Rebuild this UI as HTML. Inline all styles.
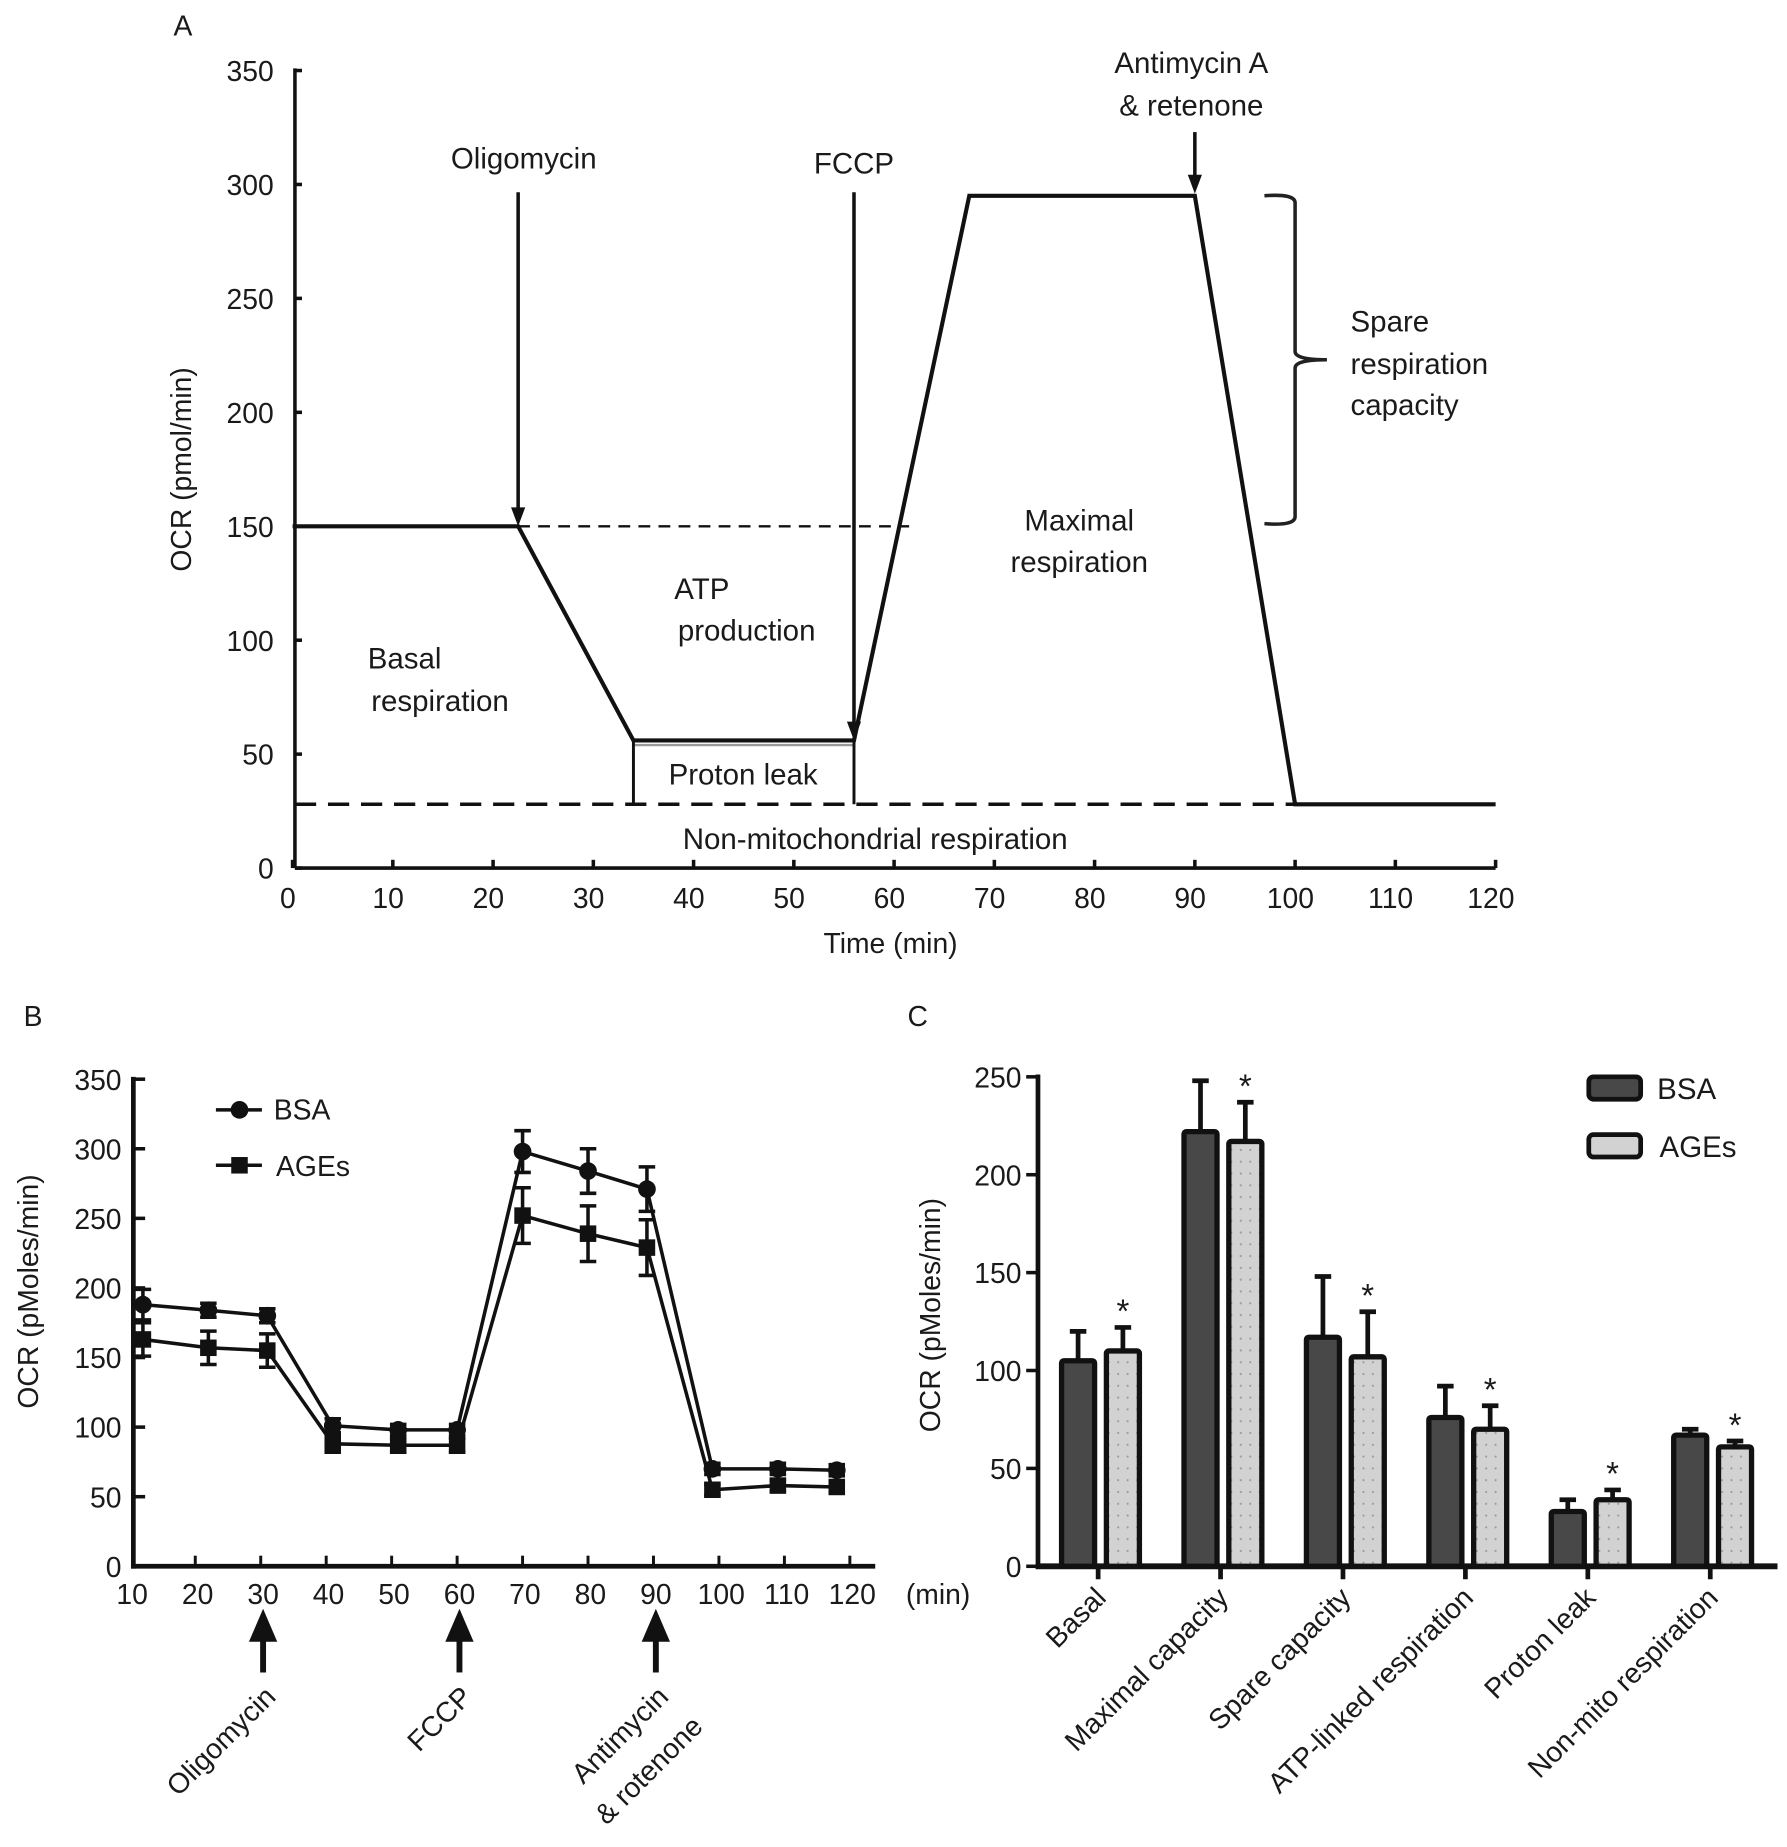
<!DOCTYPE html>
<html><head><meta charset="utf-8"><style>
html,body{margin:0;padding:0;background:#fff}
svg{display:block}
text{font-family:"Liberation Sans",sans-serif;fill:#1a1a1a}
</style></head><body>
<svg id="fig" width="1787" height="1847" viewBox="0 0 1515 1566" xmlns="http://www.w3.org/2000/svg">
<g id="pa"></g>
<g id="pb"></g>
<g id="pc"></g>
</svg>
<script>
// Panel A schematic data
const aTicksY=[0,50,100,150,200,250,300,350];
const aTicksX=[0,10,20,30,40,50,60,70,80,90,100,110,120];
const aTraceT=[0,22.5,34,56,67.5,90,100,120];
const aTraceV=[150,150,56,56,295,295,28,28];
// Panel B data
const bTime=[12,22,31,41,51,60,70,80,89,99,109,118];
const bBSA=[188,184,180,101,98,98,298,284,271,70,70,69];
const bBSAerr=[11,5,5,5,4,4,15,16,16,4,4,4];
const bAGE=[163,157,155,88,87,87,252,239,229,55,58,57];
const bAGEerr=[12,12,12,6,5,5,20,20,20,4,4,4];
const bTicksX=[10,20,30,40,50,60,70,80,90,100,110,120];
const bTicksY=[0,50,100,150,200,250,300,350];
// Panel C data
const cCats=["Basal","Maximal capacity","Spare capacity","ATP-linked respiration","Proton leak","Non-mito respiration"];
const cBSA=[105,222,117,76,28,67];
const cBSAerr=[15,26,31,16,6,3];
const cAGE=[110,217,107,70,34,61];
const cAGEerr=[12,20,23,12,5,3];
const cTicksY=[0,50,100,150,200,250];

const NS="http://www.w3.org/2000/svg";
function mk(p,tag,at,txt){const e=document.createElementNS(NS,tag);for(const k in at)e.setAttribute(k,at[k]);if(txt!==undefined)e.textContent=txt;p.appendChild(e);return e;}

// ---------- Panel A ----------
const A=document.getElementById('pa');
const ax=t=>248+t*8.5, ay=v=>736-v*1.932;
let e;
e=mk(A,'text',{x:155,y:30,'font-size':24,'text-anchor':'middle'},'A');


e=mk(A,'line',{x1:250,y1:58,x2:250,y2:736,stroke:'#111','stroke-width':3});


e=mk(A,'line',{x1:250,y1:736,x2:1268,y2:736,stroke:'#111','stroke-width':3});


aTicksY.forEach(v=>{
 e=mk(A,'line',{x1:250,y1:ay(v),x2:256,y2:ay(v),stroke:'#111','stroke-width':3});
 
 
 e=mk(A,'text',{x:232,y:ay(v)+9,'font-size':24,'text-anchor':'end'},v);
 
 
});
aTicksX.forEach(t=>{
 e=mk(A,'line',{x1:ax(t),y1:736,x2:ax(t),y2:729,stroke:'#111','stroke-width':3});
 
 
 e=mk(A,'text',{x:ax(t)-4,y:770,'font-size':24,'text-anchor':'middle'},t);
 
 
});
e=mk(A,'text',{x:755,y:808,'font-size':24,'text-anchor':'middle'},'Time (min)');


e=mk(A,'text',{x:0,y:0,'font-size':24,'text-anchor':'middle',transform:'translate(162,398) rotate(-90)'},'OCR (pmol/min)');


// dashed lines
e=mk(A,'line',{x1:ax(22.5),y1:ay(150),x2:ax(61.5),y2:ay(150),stroke:'#111','stroke-width':2,'stroke-dasharray':'10,7'});


e=mk(A,'line',{x1:250,y1:ay(28),x2:ax(100),y2:ay(28),stroke:'#111','stroke-width':3,'stroke-dasharray':'18,10'});


// trace
e=mk(A,'polyline',{points:aTraceT.map((t,i)=>ax(t)+','+ay(aTraceV[i])).join(' '),fill:'none',stroke:'#111','stroke-width':3.5});


e=mk(A,'line',{x1:ax(34),y1:ay(54),x2:ax(56),y2:ay(54),stroke:'#999','stroke-width':2});


[34,56].forEach(t=>{
 e=mk(A,'line',{x1:ax(t),y1:ay(56),x2:ax(t),y2:ay(28),stroke:'#111','stroke-width':2.5});
 
 
});
function arrowA(t,y0,v,name){
 const y1=ay(v);
 e=mk(A,'line',{x1:ax(t),y1:y0,x2:ax(t),y2:y1-12,stroke:'#111','stroke-width':3});
 
 
 e=mk(A,'polygon',{points:`${ax(t)-6},${y1-16} ${ax(t)+6},${y1-16} ${ax(t)},${y1}`,fill:'#111'});
 
 
}
arrowA(22.5,163,150,'oligomycin-arrow');
arrowA(56,163,56,'fccp-arrow');
arrowA(90,112,296,'antimycin-arrow');
const aLabels=[[444,143,'Oligomycin'],[724,147,'FCCP'],[1010,62,'Antimycin A'],[1010,98,'& retenone'],
[343,567,'Basal'],[373,603,'respiration'],[595,508,'ATP'],[633,543,'production'],[630,665,'Proton leak'],
[742,720,'Non-mitochondrial respiration'],[915,450,'Maximal'],[915,485,'respiration']];
aLabels.forEach(l=>{
 e=mk(A,'text',{x:l[0],y:l[1],'font-size':25,'text-anchor':'middle'},l[2]);
 
 
});
[[1145,281,'Spare'],[1145,317,'respiration'],[1145,352,'capacity']].forEach(l=>{
 e=mk(A,'text',{x:l[0],y:l[1],'font-size':25},l[2]);
 
 
});
e=mk(A,'path',{d:'M1072,166 Q1098,164 1098,172 L1098,298 Q1098,305 1125,305 Q1098,305 1098,312 L1098,438 Q1098,446 1072,444',fill:'none',stroke:'#222','stroke-width':3});



// ---------- Panel B ----------
const B=document.getElementById('pb');
const bx=t=>110+(t-10)*5.55, by=v=>1328-v*1.18;
e=mk(B,'text',{x:28,y:870,'font-size':24,'text-anchor':'middle'},'B');


e=mk(B,'line',{x1:113,y1:913,x2:113,y2:1330,stroke:'#111','stroke-width':4});


e=mk(B,'line',{x1:111,y1:1328,x2:742,y2:1328,stroke:'#111','stroke-width':4});


bTicksY.forEach(v=>{
 e=mk(B,'line',{x1:113,y1:by(v),x2:123,y2:by(v),stroke:'#111','stroke-width':3});
 
 
 e=mk(B,'text',{x:103,y:by(v)+9,'font-size':24,'text-anchor':'end'},v);
 
 
});
bTicksX.forEach(t=>{
 if(t>10){e=mk(B,'line',{x1:bx(t),y1:1328,x2:bx(t),y2:1319,stroke:'#111','stroke-width':2.5});
 
 }
 e=mk(B,'text',{x:bx(t)+2,y:1360,'font-size':24,'text-anchor':'middle'},t);
 
 
});
e=mk(B,'text',{x:768,y:1360,'font-size':24},'(min)');


e=mk(B,'text',{x:0,y:0,'font-size':24,'text-anchor':'middle',transform:'translate(32,1095) rotate(-90)'},'OCR (pMoles/min)');


function seriesB(vals,errs,name,sq){
 [[0,3],[3,6],[6,9],[9,12]].forEach(r=>{
  const pts=[];for(let i=r[0];i<r[1];i++)pts.push(bx(bTime[i])+','+by(vals[i]));
  if(r[0]>0){const j=r[0]-1;pts.unshift(bx(bTime[j])+','+by(vals[j]));}
  e=mk(B,'polyline',{points:pts.join(' '),fill:'none',stroke:'#111','stroke-width':3});
  
  
 });
 vals.forEach((v,i)=>{
  const x=bx(bTime[i]),y=by(v),d=errs[i]*1.18;
  e=mk(B,'path',{d:`M${x},${y-d}V${y+d}M${x-7},${y-d}H${x+7}M${x-7},${y+d}H${x+7}`,stroke:'#111','stroke-width':3,fill:'none'});
  
  
  if(sq) e=mk(B,'rect',{x:x-7,y:y-7,width:14,height:14,fill:'#111'});
  else e=mk(B,'circle',{cx:x,cy:y,r:7.5,fill:'#111'});
  
  
 });
}
seriesB(bBSA,bBSAerr,'bsa',false);
seriesB(bAGE,bAGEerr,'ages',true);
e=mk(B,'line',{x1:183,y1:941,x2:222,y2:941,stroke:'#111','stroke-width':3});


e=mk(B,'circle',{cx:203,cy:941,r:7.5,fill:'#111'});


e=mk(B,'text',{x:232,y:949,'font-size':24},'BSA');


e=mk(B,'line',{x1:183,y1:988,x2:222,y2:988,stroke:'#111','stroke-width':3});


e=mk(B,'rect',{x:196,y:981,width:14,height:14,fill:'#111'});


e=mk(B,'text',{x:234,y:997,'font-size':24},'AGEs');


[[30,'Oligomycin',['Oligomycin']],[60,'FCCP',['FCCP']],[90,'Antimycin',['Antimycin','& rotenone']]].forEach(a=>{
 const x=bx(a[0])+2;
 e=mk(B,'line',{x1:x,y1:1418,x2:x,y2:1385,stroke:'#111','stroke-width':5});
 
 
 e=mk(B,'polygon',{points:`${x-12},${1392} ${x+12},${1392} ${x},${1364}`,fill:'#111'});
 
 
 a[2].forEach((s,k)=>{
  e=mk(B,'text',{x:0,y:k*30,'font-size':24,'text-anchor':'end',transform:`translate(${x+12+k*8},${1440+k*4}) rotate(-45)`},s);
  
  
 });
});

// ---------- Panel C ----------
const C=document.getElementById('pc');
const cy=v=>1328-v*1.66, cx=i=>931+i*103.8;
e=mk(C,'text',{x:778,y:870,'font-size':24,'text-anchor':'middle'},'C');


e=mk(C,'line',{x1:880,y1:911,x2:880,y2:1330,stroke:'#111','stroke-width':4});


e=mk(C,'line',{x1:878,y1:1328,x2:1507,y2:1328,stroke:'#111','stroke-width':5});


cTicksY.forEach(v=>{
 e=mk(C,'line',{x1:870,y1:cy(v),x2:880,y2:cy(v),stroke:'#111','stroke-width':3});
 
 
 e=mk(C,'text',{x:866,y:cy(v)+9,'font-size':24,'text-anchor':'end'},v);
 
 
});
e=mk(C,'text',{x:0,y:0,'font-size':24,'text-anchor':'middle',transform:'translate(797,1115) rotate(-90)'},'OCR (pMoles/min)');


e=mk(C,'defs',{});
const pat=mk(e,'pattern',{id:'dots',width:8,height:10,patternUnits:'userSpaceOnUse'});
mk(pat,'rect',{width:8,height:10,fill:'#d2d2d2'});
mk(pat,'circle',{cx:4,cy:5,r:0.9,fill:'#999'});
function barC(i,v,er,dx,fill,name,star){
 const x=cx(i)+dx,w=28,y=cy(v),d=er*1.66;
 e=mk(C,'path',{d:`M${x},${y}V${y-d}M${x-7},${y-d}H${x+7}`,stroke:'#111','stroke-width':4,fill:'none'});
 
 
 e=mk(C,'rect',{x:x-w/2,y:y,width:w,height:1328-y,fill:fill,stroke:'#111','stroke-width':4.5,rx:2});
 
 
 if(star){e=mk(C,'text',{x:x,y:y-d-4,'font-size':28,'text-anchor':'middle'},'*');
 
 }
}
cCats.forEach((c,i)=>{
 barC(i,cBSA[i],cBSAerr[i],-17,'#484848','bsa',false);
 barC(i,cAGE[i],cAGEerr[i],21,'url(#dots)','ages',true);
 e=mk(C,'line',{x1:cx(i),y1:1328,x2:cx(i),y2:1339,stroke:'#111','stroke-width':4});
 
 
 e=mk(C,'text',{x:0,y:0,'font-size':24,'text-anchor':'end',transform:`translate(${cx(i)+8},${1356}) rotate(-45)`},c);
 
 
});
e=mk(C,'rect',{x:1347,y:913,width:44,height:19,rx:4,fill:'#484848',stroke:'#111','stroke-width':4});


e=mk(C,'text',{x:1405,y:932,'font-size':25},'BSA');


e=mk(C,'rect',{x:1347,y:962,width:44,height:19,rx:4,fill:'#d2d2d2',stroke:'#111','stroke-width':4});


e=mk(C,'text',{x:1407,y:981,'font-size':25},'AGEs');


</script>
</body></html>
